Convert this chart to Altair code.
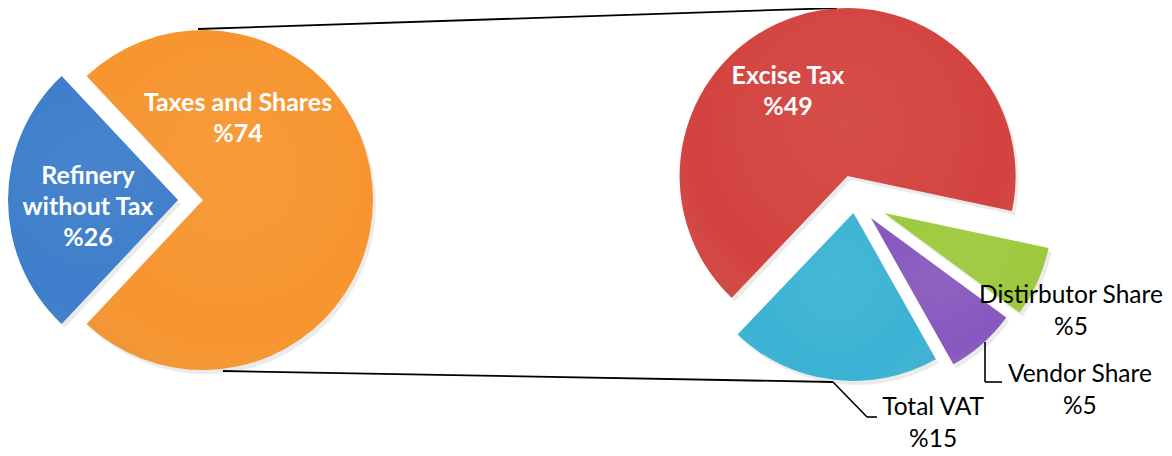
import math
import altair as alt
import pandas as pd

# ---------------- data ----------------
left_categories = ["Refinery\nwithout Tax", "Taxes and Shares"]
left_values = [26, 74]
right_categories = ["Excise Tax", "Distirbutor Share", "Vendor Share", "Total VAT"]
right_values = [49, 5, 5, 15]

# ---------------- styles / layout ----------------
left_colors = ["#3D7DCA", "#F7952F"]
right_colors = ["#D3433F", "#9DC93D", "#8758BE", "#3BB3D4"]
left_explode = [25, 0]
right_explode = [25, 32, 24, 13]
# polar position (deg clockwise from 12 o'clock, px) of each label's first line
left_label_angle = [281.8, 19.8]
left_label_radius = [117.5, 103.1]
right_label_angle = [331.6, 114.0, 127.9, 159.4]
right_label_radius = [140.9, 236.4, 285.0, 222.1]
left_label_inside = [True, True]
right_label_inside = [True, False, False, False]

W, H = 1156, 446
LEFT_C, LEFT_R, LEFT_START = (195, 192), 170, 223.2
RIGHT_C, RIGHT_R, RIGHT_START = (847, 192), 168, 223.6

FONT = "Lato"

gradient = alt.RadialGradient(
    gradient="radial",
    x1=0.5, y1=0.4, r1=0, x2=0.5, y2=0.45, r2=0.75,
    stops=[
        alt.GradientStop(offset=0, color="rgba(255,255,255,0.06)"),
        alt.GradientStop(offset=0.65, color="rgba(255,255,255,0.0)"),
        alt.GradientStop(offset=1, color="rgba(0,0,0,0.20)"),
    ],
)


def pie_layers(cats, vals, colors, explode, la, lr, inside, center, R, start_deg):
    cx, cy = center
    df = pd.DataFrame({
        "category": cats,
        "value": vals,
        "order": list(range(len(cats))),
        "color": colors,
        "explode": explode,
        "la": la,
        "lr": lr,
        "inside": inside,
    })
    s = math.radians(start_deg)
    base = (
        alt.Chart(df)
        .transform_joinaggregate(total="sum(value)")
        .transform_window(cum="sum(value)", sort=[alt.SortField("order")])
        .transform_calculate(
            t0=f"{s} + 2*PI*(datum.cum - datum.value)/datum.total",
            t1=f"{s} + 2*PI*datum.cum/datum.total",
        )
        .transform_calculate(
            mid="(datum.t0 + datum.t1)/2",
        )
        .transform_calculate(
            px=f"{cx} + datum.explode*sin(datum.mid)",
            py=f"{cy} - datum.explode*cos(datum.mid)",
            sx=f"{cx} + datum.explode*sin(datum.mid) + 3",
            sy=f"{cy} - datum.explode*cos(datum.mid) + 4",
            lx=f"{cx} + datum.lr*sin(datum.la*PI/180)",
            ly=f"{cy} - datum.lr*cos(datum.la*PI/180)",
            label="datum.category + '\\n%' + datum.value",
        )
    )
    th = dict(theta=alt.Theta("t0:Q", scale=None, stack=False), theta2="t1:Q")
    shadow = base.mark_arc(radius=R, color="#000000", opacity=0.08).encode(
        x=alt.X("sx:Q", scale=None, axis=None),
        y=alt.Y("sy:Q", scale=None, axis=None),
        **th,
    )
    arcs = base.mark_arc(radius=R).encode(
        x=alt.X("px:Q", scale=None, axis=None),
        y=alt.Y("py:Q", scale=None, axis=None),
        color=alt.Color("color:N", scale=None, legend=None),
        **th,
    )
    shade = base.mark_arc(radius=R, fill=gradient).encode(
        x=alt.X("px:Q", scale=None, axis=None),
        y=alt.Y("py:Q", scale=None, axis=None),
        **th,
    )
    txt_in = base.transform_filter("datum.inside").mark_text(
        font=FONT, fontSize=25, fontWeight="bold", color="white",
        lineBreak="\n", lineHeight=31, align="center", baseline="middle",
    ).encode(
        x=alt.X("lx:Q", scale=None, axis=None),
        y=alt.Y("ly:Q", scale=None, axis=None),
        text="label:N",
    )
    txt_out = base.transform_filter("!datum.inside").mark_text(
        font=FONT, fontSize=24.5, color="black",
        lineBreak="\n", lineHeight=32, align="center", baseline="middle",
    ).encode(
        x=alt.X("lx:Q", scale=None, axis=None),
        y=alt.Y("ly:Q", scale=None, axis=None),
        text="label:N",
    )
    return [shadow, arcs, shade, txt_in, txt_out]


dummy = pd.DataFrame({"k": [0]})


def seg(x1, y1, x2, y2, w=1.6):
    return alt.Chart(dummy).mark_rule(color="black", strokeWidth=w).encode(
        x=alt.value(x1), y=alt.value(y1), x2=alt.value(x2), y2=alt.value(y2)
    )


connectors = [
    seg(190, 21, 829, 0, 1.8),
    seg(215, 363, 825, 374, 1.8),
    # Total VAT leader
    seg(825, 374, 859, 409),
    seg(859, 409, 869, 409),
    # Vendor Share leader
    seg(977, 334, 977, 374),
    seg(977, 374, 994, 374),
]

layers = (
    connectors
    + pie_layers(left_categories, left_values, left_colors, left_explode,
                 left_label_angle, left_label_radius, left_label_inside,
                 LEFT_C, LEFT_R, LEFT_START)
    + pie_layers(right_categories, right_values, right_colors, right_explode,
                 right_label_angle, right_label_radius, right_label_inside,
                 RIGHT_C, RIGHT_R, RIGHT_START)
)

chart = (
    alt.layer(*layers)
    .properties(width=W, height=H, padding=0, autosize="none", background="white")
    .configure_view(stroke=None)
)

chart.save("out.html", embed_options={"renderer": "svg", "actions": False})
